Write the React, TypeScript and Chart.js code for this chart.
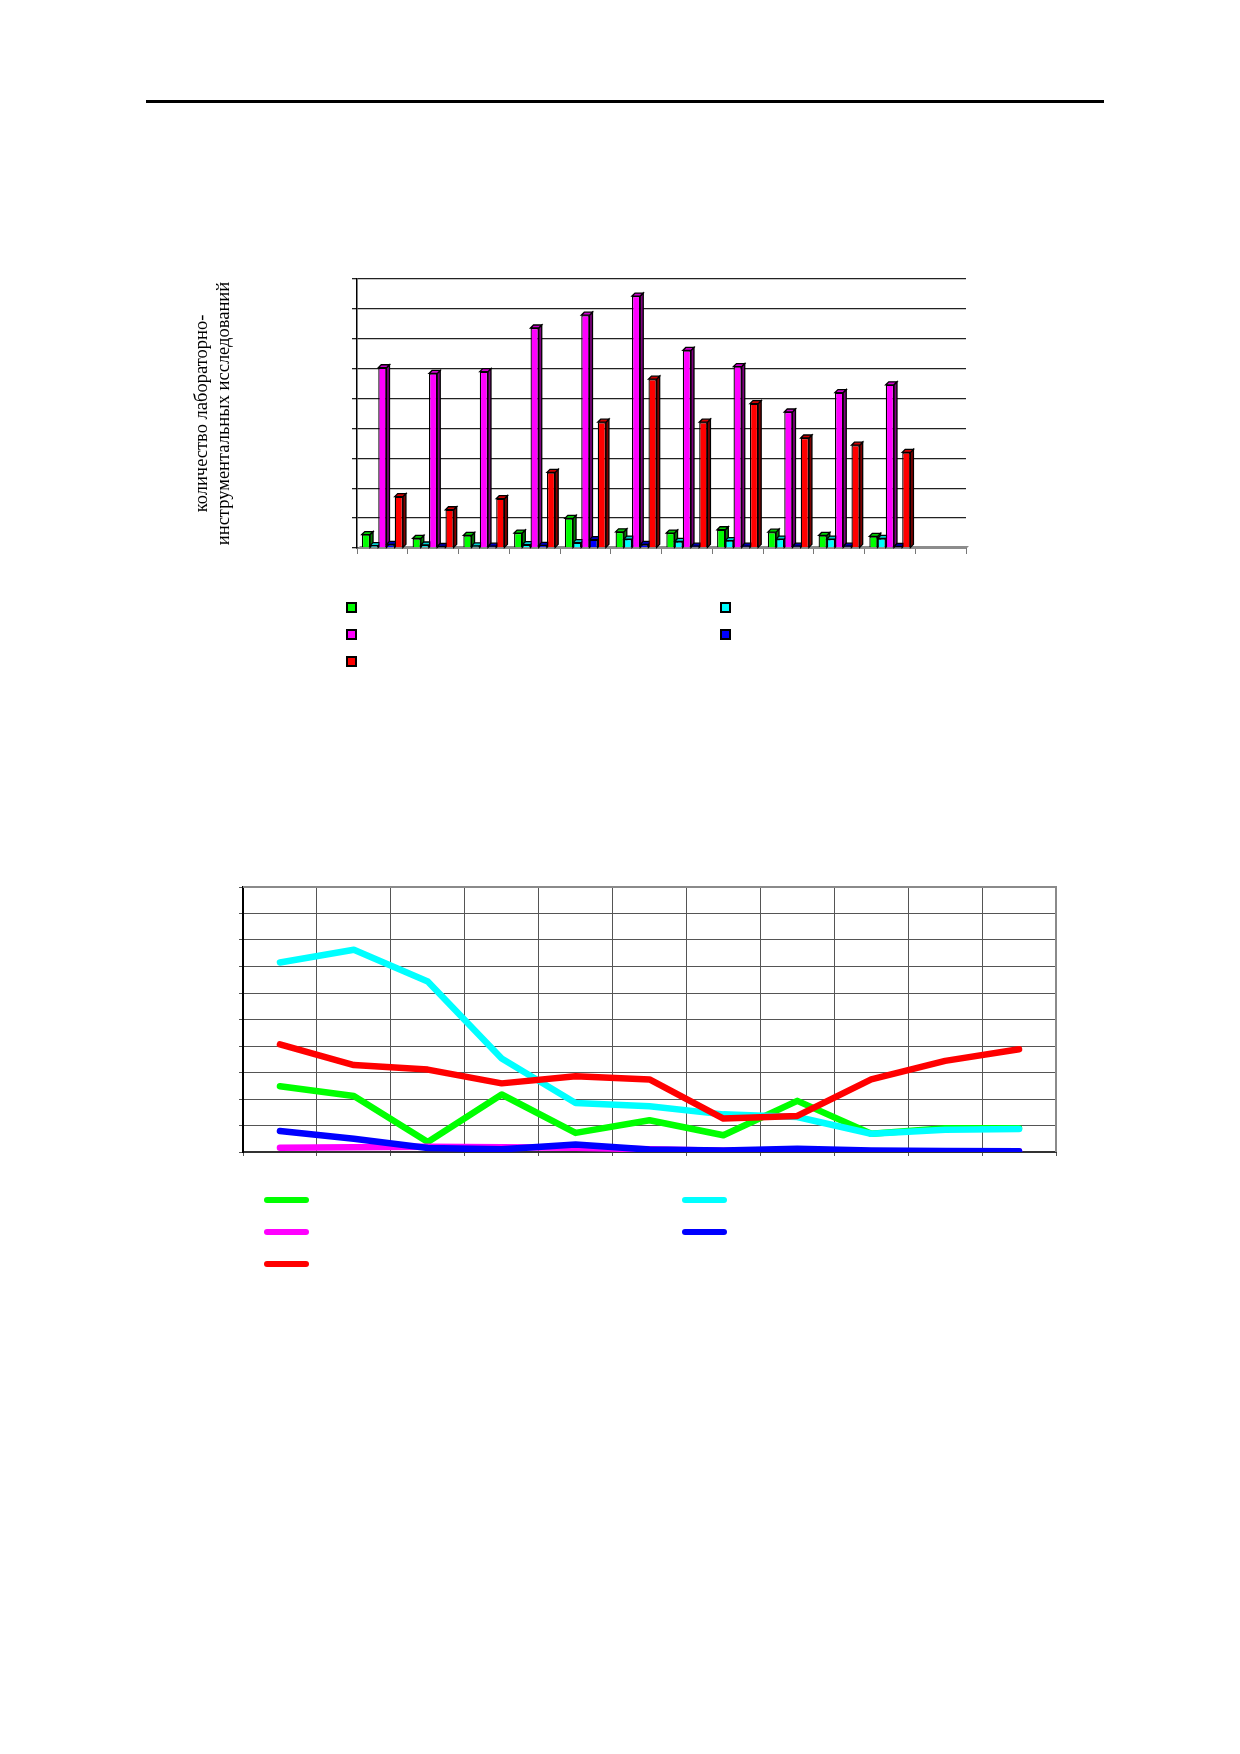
import { useEffect, useRef } from "react";
import { Chart, registerables } from "chart.js";

Chart.register(...registerables);

// --- bar chart data (12 periods, last one empty) ---
const barCategories = ["1", "2", "3", "4", "5", "6", "7", "8", "9", "10", "11", "12"];
const barGreen = [0.45, 0.32, 0.42, 0.5, 0.99, 0.54, 0.5, 0.61, 0.53, 0.42, 0.39, null];
const barCyan = [0.08, 0.1, 0.07, 0.11, 0.18, 0.3, 0.22, 0.25, 0.3, 0.3, 0.32, null];
const barMagenta = [6.03, 5.84, 5.9, 7.36, 7.79, 8.43, 6.61, 6.07, 4.55, 5.2, 5.46, null];
const barBlue = [0.12, 0.05, 0.06, 0.09, 0.28, 0.12, 0.06, 0.06, 0.06, 0.06, 0.05, null];
const barRed = [1.72, 1.28, 1.65, 2.53, 4.21, 5.65, 4.21, 4.83, 3.68, 3.44, 3.2, null];
const barTicks = [0, 1, 2, 3, 4, 5, 6, 7, 8, 9];
const yTitle = ["количество лабораторно-", "инструментальных исследований"];

// --- line chart data (11 periods) ---
const lineCategories = ["1", "2", "3", "4", "5", "6", "7", "8", "9", "10", "11"];
const lineGreen = [2.48, 2.11, 0.38, 2.17, 0.72, 1.2, 0.63, 1.93, 0.69, 0.9, 0.9];
const lineCyan = [7.15, 7.63, 6.43, 3.53, 1.85, 1.73, 1.42, 1.32, 0.69, 0.84, 0.87];
const lineMagenta = [0.16, 0.18, 0.2, 0.18, 0.16, 0.1, 0.05, 0.05, 0.03, 0.03, 0.03];
const lineBlue = [0.79, 0.5, 0.15, 0.1, 0.28, 0.09, 0.06, 0.12, 0.06, 0.04, 0.03];
const lineRed = [4.06, 3.28, 3.11, 2.59, 2.86, 2.74, 1.26, 1.36, 2.74, 3.44, 3.88];
const lineTicks = [0, 1, 2, 3, 4, 5, 6, 7, 8, 9, 10];

const colors = ["#00ff00", "#00ffff", "#ff00ff", "#0000ff", "#ff0000"];
const sideColors = ["#008000", "#008080", "#800080", "#000080", "#800000"];
const topColors = ["#00d000", "#00d0d0", "#d000d0", "#0000c0", "#d00000"];

const DEPTH = 3;

const bar3d = {
  id: "bar3d",
  beforeDatasetsDraw(chart: any) {
    const { ctx, chartArea } = chart;
    ctx.save();
    // floor
    ctx.fillStyle = "#8c8c8c";
    ctx.beginPath();
    ctx.moveTo(chartArea.left, chartArea.bottom + 1);
    ctx.lineTo(chartArea.left + DEPTH, chartArea.bottom - DEPTH + 1);
    ctx.lineTo(chartArea.right + DEPTH, chartArea.bottom - DEPTH + 1);
    ctx.lineTo(chartArea.right, chartArea.bottom + 1);
    ctx.closePath();
    ctx.fill();
    ctx.strokeStyle = "#000";
    ctx.lineWidth = 1.3;
    chart.data.datasets.forEach((ds: any, i: number) => {
      const meta = chart.getDatasetMeta(i);
      meta.data.forEach((el: any, j: number) => {
        if (ds.data[j] == null) return;
        const { x, y, base, width } = el.getProps(["x", "y", "base", "width"], true);
        const l = x - width / 2;
        const r = x + width / 2;
        ctx.fillStyle = sideColors[i];
        ctx.beginPath();
        ctx.moveTo(r, y);
        ctx.lineTo(r + DEPTH, y - DEPTH);
        ctx.lineTo(r + DEPTH, base - DEPTH);
        ctx.lineTo(r, base);
        ctx.closePath();
        ctx.fill();
        ctx.stroke();
        ctx.fillStyle = topColors[i];
        ctx.beginPath();
        ctx.moveTo(l, y);
        ctx.lineTo(l + DEPTH, y - DEPTH);
        ctx.lineTo(r + DEPTH, y - DEPTH);
        ctx.lineTo(r, y);
        ctx.closePath();
        ctx.fill();
        ctx.stroke();
      });
    });
    ctx.restore();
  },
};

const frame = {
  id: "frame",
  afterDraw(chart: any) {
    const { ctx, chartArea } = chart;
    ctx.save();
    ctx.strokeStyle = "#8a8a8a";
    ctx.lineWidth = 2;
    ctx.beginPath();
    ctx.moveTo(chartArea.left, chartArea.top);
    ctx.lineTo(chartArea.right, chartArea.top);
    ctx.lineTo(chartArea.right, chartArea.bottom);
    ctx.stroke();
    ctx.restore();
  },
};

const BarChart = () => {
  const chartRef = useRef<HTMLCanvasElement>(null);

  useEffect(() => {
    if (!chartRef.current) return;
    const series = [barGreen, barCyan, barMagenta, barBlue, barRed];
    const chart = new Chart(chartRef.current, {
      type: "bar",
      data: {
        labels: barCategories,
        datasets: series.map((data, i) => ({
          data,
          backgroundColor: colors[i],
          borderColor: "#000",
          borderWidth: 1.3,
          categoryPercentage: 0.81,
          barPercentage: 1,
        })),
      },
      options: {
        animation: false,
        responsive: true,
        maintainAspectRatio: false,
        layout: { padding: { top: 10, right: 10, left: 0, bottom: 0 } },
        plugins: { legend: { display: false }, tooltip: { enabled: false } },
        scales: {
          x: {
            offset: true,
            ticks: { display: false },
            grid: {
              offset: true,
              drawOnChartArea: false,
              drawTicks: true,
              tickLength: 6,
              color: "#777",
            },
            border: { color: "#666", width: 2 },
            afterFit: (scale: any) => {
              scale.height = 15;
            },
          },
          y: {
            min: 0,
            max: barTicks[barTicks.length - 1],
            afterBuildTicks: (scale: any) => {
              scale.ticks = barTicks.map((v) => ({ value: v }));
            },
            ticks: { display: false },
            grid: { color: "#222", lineWidth: 1.3, tickLength: 5 },
            border: { color: "#000", width: 1.5 },
            title: {
              display: true,
              text: yTitle,
              color: "#000",
              font: { family: "Liberation Serif", size: 18.5 },
              padding: { top: 0, bottom: 0 },
            },
            afterFit: (scale: any) => {
              scale.width = 166;
            },
          },
        },
      },
      plugins: [bar3d],
    });
    return () => chart.destroy();
  }, []);

  return (
    <div style={{ position: "absolute", left: 191, top: 269, width: 785, height: 294 }}>
      <canvas ref={chartRef} />
    </div>
  );
};

const LineChart = () => {
  const chartRef = useRef<HTMLCanvasElement>(null);

  useEffect(() => {
    if (!chartRef.current) return;
    const series = [lineGreen, lineCyan, lineMagenta, lineBlue, lineRed];
    const chart = new Chart(chartRef.current, {
      type: "line",
      data: {
        labels: lineCategories,
        datasets: series.map((data, i) => ({
          data,
          borderColor: colors[i],
          borderWidth: 6.5,
          borderCapStyle: "round" as const,
          borderJoinStyle: "round" as const,
          pointRadius: 0,
          tension: 0,
          order: 5 - i,
        })),
      },
      options: {
        animation: false,
        responsive: true,
        maintainAspectRatio: false,
        layout: { padding: { top: 10, right: 10, left: 0, bottom: 0 } },
        plugins: { legend: { display: false }, tooltip: { enabled: false } },
        scales: {
          x: {
            offset: true,
            ticks: { display: false },
            grid: { offset: true, color: "#555", lineWidth: 1, tickLength: 4 },
            border: { color: "#333", width: 2 },
            afterFit: (scale: any) => {
              scale.height = 10;
            },
          },
          y: {
            min: 0,
            max: lineTicks[lineTicks.length - 1],
            afterBuildTicks: (scale: any) => {
              scale.ticks = lineTicks.map((v) => ({ value: v }));
            },
            ticks: { display: false },
            grid: { color: "#555", lineWidth: 1, tickLength: 4 },
            border: { color: "#000", width: 2 },
            afterFit: (scale: any) => {
              scale.width = 10;
            },
          },
        },
      },
      plugins: [frame],
    });
    return () => chart.destroy();
  }, []);

  return (
    <div style={{ position: "absolute", left: 233, top: 877, width: 833, height: 285 }}>
      <canvas ref={chartRef} />
    </div>
  );
};

const BarLegend = () => (
  <>
    {colors.map((c, i) => (
      <div
        key={i}
        style={{
          position: "absolute",
          left: i % 2 === 0 ? 346 : 720,
          top: 602 + Math.floor(i / 2) * 27,
          width: 7,
          height: 7,
          background: c,
          border: "2px solid #000",
        }}
      />
    ))}
  </>
);

const LineLegend = () => (
  <>
    {colors.map((c, i) => (
      <div
        key={i}
        style={{
          position: "absolute",
          left: i % 2 === 0 ? 264 : 682,
          top: 1197 + Math.floor(i / 2) * 32,
          width: 45,
          height: 6,
          borderRadius: 3,
          background: c,
        }}
      />
    ))}
  </>
);

export default function App() {
  return (
    <div style={{ position: "absolute", left: 0, top: 0, width: 1240, height: 1754, background: "#fff" }}>
      <div style={{ position: "absolute", left: 146, top: 100, width: 958, height: 3, background: "#000" }} />
      <BarChart />
      <BarLegend />
      <LineChart />
      <LineLegend />
    </div>
  );
}
